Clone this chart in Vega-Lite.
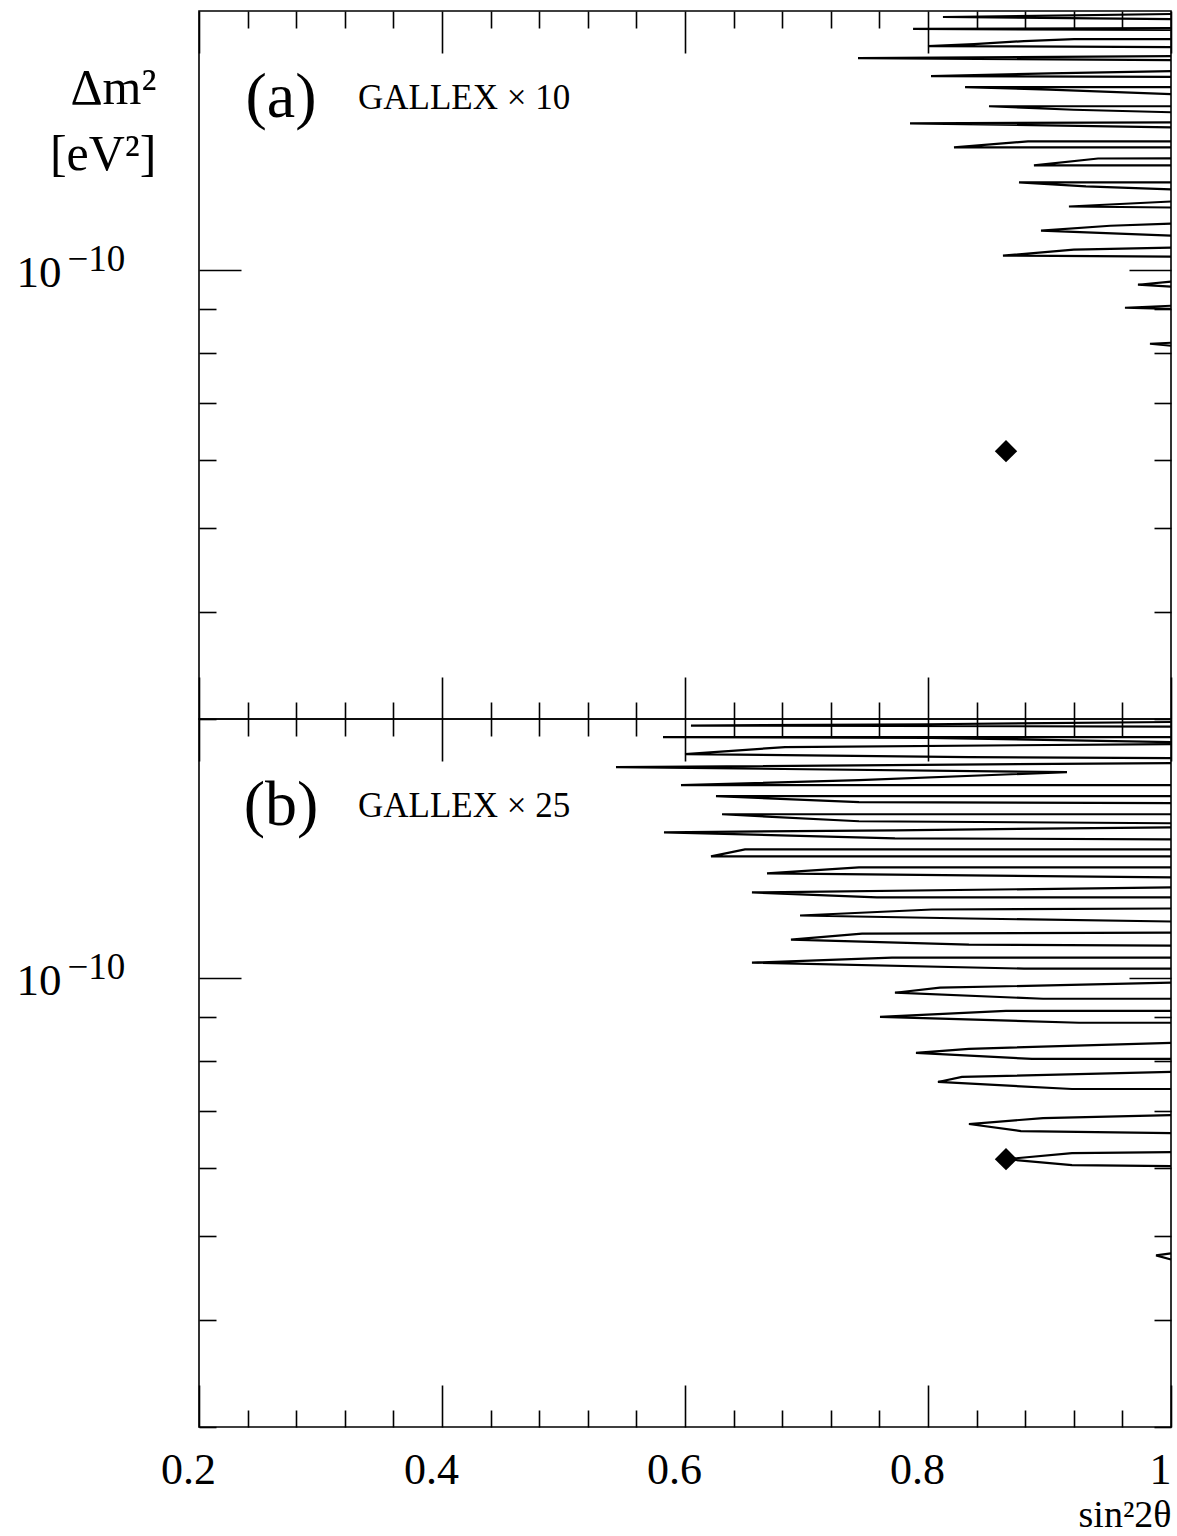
{
"$schema":"https://vega.github.io/schema/vega-lite/v6.json",
"autosize":{"type":"pad"},
"padding":{"left":15,"top":8,"right":0,"bottom":0},
"background":"white",
"spacing":0,
"bounds":"flush",
"datasets":{
"spikesA":[
{"g":"a1","s":0,"x":1,"y":1.984e-10},{"g":"a1","s":1,"x":0.8123,"y":1.968e-10},{"g":"a1","s":2,"x":1,"y":1.957e-10},
{"g":"a2","s":0,"x":1,"y":1.911e-10},{"g":"a2","s":1,"x":0.7877,"y":1.906e-10},{"g":"a2","s":2,"x":1,"y":1.901e-10},
{"g":"a3","s":0,"x":1,"y":1.855e-10},{"g":"a3","s":1,"x":0.9202,"y":1.855e-10},{"g":"a3","s":2,"x":0.879,"y":1.845e-10},{"g":"a3","s":3,"x":0.8379,"y":1.8304e-10},{"g":"a3","s":4,"x":0.8,"y":1.8206e-10},{"g":"a3","s":5,"x":1,"y":1.8157e-10},
{"g":"a4","s":0,"x":1,"y":1.7723e-10},{"g":"a4","s":1,"x":0.7424,"y":1.7628e-10},{"g":"a4","s":2,"x":1,"y":1.7534e-10},
{"g":"a5","s":0,"x":1,"y":1.7023e-10},{"g":"a5","s":1,"x":0.9,"y":1.692e-10},{"g":"a5","s":2,"x":0.8025,"y":1.6796e-10},{"g":"a5","s":3,"x":1,"y":1.676e-10},
{"g":"a6","s":0,"x":1,"y":1.6307e-10},{"g":"a6","s":1,"x":0.8305,"y":1.6307e-10},{"g":"a6","s":2,"x":0.9,"y":1.62e-10},{"g":"a6","s":3,"x":1,"y":1.6003e-10},
{"g":"a7","s":0,"x":1,"y":1.5495e-10},{"g":"a7","s":1,"x":0.8502,"y":1.5495e-10},{"g":"a7","s":2,"x":0.92,"y":1.535e-10},{"g":"a7","s":3,"x":1,"y":1.5248e-10},
{"g":"a8","s":0,"x":1,"y":1.4843e-10},{"g":"a8","s":1,"x":0.7852,"y":1.4803e-10},{"g":"a8","s":2,"x":1,"y":1.4645e-10},
{"g":"a9","s":0,"x":1,"y":1.4105e-10},{"g":"a9","s":1,"x":0.8823,"y":1.4105e-10},{"g":"a9","s":2,"x":0.8214,"y":1.3879e-10},{"g":"a9","s":3,"x":1,"y":1.3879e-10},
{"g":"a10","s":0,"x":1,"y":1.3475e-10},{"g":"a10","s":1,"x":0.94,"y":1.347e-10},{"g":"a10","s":2,"x":0.8872,"y":1.3224e-10},{"g":"a10","s":3,"x":1,"y":1.3224e-10},
{"g":"a11","s":0,"x":1,"y":1.2633e-10},{"g":"a11","s":1,"x":0.8749,"y":1.2633e-10},{"g":"a11","s":2,"x":0.93,"y":1.25e-10},{"g":"a11","s":3,"x":1,"y":1.2398e-10},
{"g":"a12","s":0,"x":1,"y":1.2005e-10},{"g":"a12","s":1,"x":0.916,"y":1.1844e-10},{"g":"a12","s":2,"x":1,"y":1.1813e-10},
{"g":"a13","s":0,"x":1,"y":1.1315e-10},{"g":"a13","s":1,"x":0.95,"y":1.125e-10},{"g":"a13","s":2,"x":0.893,"y":1.1105e-10},{"g":"a13","s":3,"x":1,"y":1.0957e-10},
{"g":"a14","s":0,"x":1,"y":1.0609e-10},{"g":"a14","s":1,"x":0.92,"y":1.055e-10},{"g":"a14","s":2,"x":0.8617,"y":1.0384e-10},{"g":"a14","s":3,"x":1,"y":1.0356e-10},
{"g":"a15","s":0,"x":1,"y":0.9683e-10},{"g":"a15","s":1,"x":0.9728,"y":0.9605e-10},{"g":"a15","s":2,"x":1,"y":0.9554e-10},
{"g":"a16","s":0,"x":1,"y":0.9079e-10},{"g":"a16","s":1,"x":0.9621,"y":0.903e-10},{"g":"a16","s":2,"x":1,"y":0.9005e-10},
{"g":"a17","s":0,"x":1,"y":0.8222e-10},{"g":"a17","s":1,"x":0.9827,"y":0.82e-10},{"g":"a17","s":2,"x":1,"y":0.8156e-10}
],
"spikesB":[
{"g":"b1","s":0,"x":1,"y":1.984e-10},{"g":"b1","s":1,"x":0.8,"y":1.972e-10},{"g":"b1","s":2,"x":0.6049,"y":1.965e-10},{"g":"b1","s":3,"x":1,"y":1.96e-10},
{"g":"b2","s":0,"x":1,"y":1.9057e-10},{"g":"b2","s":1,"x":0.5819,"y":1.9057e-10},{"g":"b2","s":2,"x":0.8008,"y":1.901e-10},{"g":"b2","s":3,"x":1,"y":1.8802e-10},
{"g":"b3","s":0,"x":1,"y":1.8702e-10},{"g":"b3","s":1,"x":0.6823,"y":1.855e-10},{"g":"b3","s":2,"x":0.6,"y":1.8206e-10},{"g":"b3","s":3,"x":0.8337,"y":1.806e-10},{"g":"b3","s":4,"x":1,"y":1.8011e-10},
{"g":"b4","s":0,"x":1,"y":1.7771e-10},{"g":"b4","s":1,"x":0.5432,"y":1.7581e-10},{"g":"b4","s":2,"x":0.9144,"y":1.7346e-10},{"g":"b4","s":3,"x":0.7432,"y":1.6977e-10},{"g":"b4","s":4,"x":0.5967,"y":1.6751e-10},{"g":"b4","s":5,"x":1,"y":1.6751e-10},
{"g":"b5","s":0,"x":1,"y":1.6263e-10},{"g":"b5","s":1,"x":0.6255,"y":1.6263e-10},{"g":"b5","s":2,"x":0.7432,"y":1.6003e-10},{"g":"b5","s":3,"x":1,"y":1.596e-10},
{"g":"b6","s":0,"x":1,"y":1.5495e-10},{"g":"b6","s":1,"x":0.6305,"y":1.5495e-10},{"g":"b6","s":2,"x":0.7432,"y":1.5207e-10},{"g":"b6","s":3,"x":1,"y":1.5126e-10},
{"g":"b7","s":0,"x":1,"y":1.4963e-10},{"g":"b7","s":1,"x":0.7728,"y":1.4843e-10},{"g":"b7","s":2,"x":0.5827,"y":1.4763e-10},{"g":"b7","s":3,"x":0.7728,"y":1.4527e-10},{"g":"b7","s":4,"x":1,"y":1.4488e-10},
{"g":"b8","s":0,"x":1,"y":1.4105e-10},{"g":"b8","s":1,"x":0.6494,"y":1.4105e-10},{"g":"b8","s":2,"x":0.6214,"y":1.3842e-10},{"g":"b8","s":3,"x":1,"y":1.3842e-10},
{"g":"b9","s":0,"x":1,"y":1.3439e-10},{"g":"b9","s":1,"x":0.7432,"y":1.3439e-10},{"g":"b9","s":2,"x":0.6675,"y":1.3224e-10},{"g":"b9","s":3,"x":0.8337,"y":1.3152e-10},{"g":"b9","s":4,"x":1,"y":1.3082e-10},
{"g":"b10","s":0,"x":1,"y":1.2735e-10},{"g":"b10","s":1,"x":0.6551,"y":1.2566e-10},{"g":"b10","s":2,"x":0.758,"y":1.2398e-10},{"g":"b10","s":3,"x":1,"y":1.2398e-10},
{"g":"b11","s":0,"x":1,"y":1.2037e-10},{"g":"b11","s":1,"x":0.8033,"y":1.2005e-10},{"g":"b11","s":2,"x":0.6947,"y":1.1813e-10},{"g":"b11","s":3,"x":0.8337,"y":1.1718e-10},{"g":"b11","s":4,"x":1,"y":1.1624e-10},
{"g":"b12","s":0,"x":1,"y":1.1285e-10},{"g":"b12","s":1,"x":0.7457,"y":1.1255e-10},{"g":"b12","s":2,"x":0.6872,"y":1.1075e-10},{"g":"b12","s":3,"x":0.8337,"y":1.0927e-10},{"g":"b12","s":4,"x":1,"y":1.0898e-10},
{"g":"b13","s":0,"x":1,"y":1.0552e-10},{"g":"b13","s":1,"x":0.7704,"y":1.0552e-10},{"g":"b13","s":2,"x":0.6551,"y":1.0411e-10},{"g":"b13","s":3,"x":0.879,"y":1.0245e-10},{"g":"b13","s":4,"x":1,"y":1.0245e-10},
{"g":"b14","s":0,"x":1,"y":0.9867e-10},{"g":"b14","s":1,"x":0.8099,"y":0.9735e-10},{"g":"b14","s":2,"x":0.7728,"y":0.9605e-10},{"g":"b14","s":3,"x":0.8947,"y":0.9451e-10},{"g":"b14","s":4,"x":1,"y":0.9451e-10},
{"g":"b15","s":0,"x":1,"y":0.9151e-10},{"g":"b15","s":1,"x":0.8642,"y":0.9151e-10},{"g":"b15","s":2,"x":0.7605,"y":0.9005e-10},{"g":"b15","s":3,"x":0.9243,"y":0.8862e-10},{"g":"b15","s":4,"x":1,"y":0.8862e-10},
{"g":"b16","s":0,"x":1,"y":0.8398e-10},{"g":"b16","s":1,"x":0.8337,"y":0.8264e-10},{"g":"b16","s":2,"x":0.7901,"y":0.8175e-10},{"g":"b16","s":3,"x":0.8856,"y":0.8045e-10},{"g":"b16","s":4,"x":1,"y":0.8045e-10},
{"g":"b17","s":0,"x":1,"y":0.7768e-10},{"g":"b17","s":1,"x":0.828,"y":0.7664e-10},{"g":"b17","s":2,"x":0.8082,"y":0.7562e-10},{"g":"b17","s":3,"x":0.9185,"y":0.7421e-10},{"g":"b17","s":4,"x":1,"y":0.7421e-10},
{"g":"b18","s":0,"x":1,"y":0.6921e-10},{"g":"b18","s":1,"x":0.8947,"y":0.6865e-10},{"g":"b18","s":2,"x":0.8337,"y":0.6756e-10},{"g":"b18","s":3,"x":0.8765,"y":0.663e-10},{"g":"b18","s":4,"x":1,"y":0.6595e-10},
{"g":"b19","s":0,"x":1,"y":0.6265e-10},{"g":"b19","s":1,"x":0.9185,"y":0.6249e-10},{"g":"b19","s":2,"x":0.8642,"y":0.6149e-10},{"g":"b19","s":3,"x":0.9185,"y":0.6051e-10},{"g":"b19","s":4,"x":1,"y":0.6034e-10},
{"g":"b20","s":0,"x":1,"y":0.4777e-10},{"g":"b20","s":1,"x":0.9877,"y":0.4751e-10},{"g":"b20","s":2,"x":1,"y":0.47e-10}
],
"best":[{"x":0.8642,"y":0.6149e-10}]
},
"vconcat":[
{
"width":972,"height":708,
"resolve":{"axis":{"x":"independent","y":"independent"}},
"layer":[
{"data":{"name":"spikesA"},"mark":{"type":"line","color":"black","strokeWidth":2.2},
"encoding":{
"x":{"field":"x","type":"quantitative","scale":{"domain":[0.2,1],"nice":false,"zero":false},"axis":{"orient":"bottom","values":[0.2,0.4,0.6,0.8,1],"tickSize":-42,"labels":false,"title":null}},
"y":{"field":"y","type":"quantitative","scale":{"type":"log","domain":[3e-11,2e-10],"nice":false},"axis":{"orient":"left","values":[1e-10],"tickSize":-42,"labels":false,"title":null}},
"detail":{"field":"g","type":"nominal"},
"order":{"field":"s","type":"quantitative"}}},
{"data":{"name":"best"},"mark":{"type":"point","shape":"diamond","filled":true,"color":"black","size":500,"opacity":1},
"encoding":{
"x":{"field":"x","type":"quantitative","scale":{"domain":[0.2,1],"nice":false,"zero":false},"axis":{"orient":"bottom","values":[0.24,0.28,0.32,0.36,0.44,0.48,0.52,0.56,0.64,0.68,0.72,0.76,0.84,0.88,0.92,0.96],"tickSize":-17,"labels":false,"title":null}},
"y":{"field":"y","type":"quantitative","scale":{"type":"log","domain":[3e-11,2e-10],"nice":false},"axis":{"orient":"left","values":[3e-11,4e-11,5e-11,6e-11,7e-11,8e-11,9e-11],"tickSize":-17,"labels":false,"title":null}}}},
{"data":{"values":[{}]},"mark":{"type":"text","text":"(a)","font":"Liberation Serif","fontSize":64,"align":"center","baseline":"alphabetic","color":"black"},
"encoding":{
"x":{"datum":0.2675,"type":"quantitative","scale":{"domain":[0.2,1],"nice":false,"zero":false},"axis":{"orient":"top","values":[0.2,0.4,0.6,0.8,1],"tickSize":-42,"labels":false,"title":null}},
"y":{"datum":1.5045e-10,"type":"quantitative","scale":{"type":"log","domain":[3e-11,2e-10],"nice":false},"axis":{"orient":"right","values":[1e-10],"tickSize":-42,"labels":false,"title":null}}}},
{"data":{"values":[{}]},"mark":{"type":"text","text":"GALLEX × 10","font":"Liberation Serif","fontSize":35,"align":"left","baseline":"alphabetic","color":"black"},
"encoding":{
"x":{"datum":0.3309,"type":"quantitative","scale":{"domain":[0.2,1],"nice":false,"zero":false},"axis":{"orient":"top","values":[0.24,0.28,0.32,0.36,0.44,0.48,0.52,0.56,0.64,0.68,0.72,0.76,0.84,0.88,0.92,0.96],"tickSize":-17,"labels":false,"title":null}},
"y":{"datum":1.5371e-10,"type":"quantitative","scale":{"type":"log","domain":[3e-11,2e-10],"nice":false},"axis":{"orient":"right","values":[3e-11,4e-11,5e-11,6e-11,7e-11,8e-11,9e-11],"tickSize":-17,"labels":false,"title":null}}}},
{"data":{"values":[{}]},"mark":{"type":"text","text":""},
"encoding":{
"x":{"datum":0.5,"type":"quantitative","scale":{"domain":[0.2,1],"nice":false,"zero":false},"axis":null},
"y":{"datum":1e-10,"type":"quantitative","scale":{"type":"log","domain":[3e-11,2e-10],"nice":false},"axis":{"orient":"left","values":[1e-10],"ticks":false,"tickSize":0,"labelExpr":"'10'","labelAlign":"left","labelBaseline":"alphabetic","labelPadding":183,"labelOffset":17,"labelFontSize":45,"title":["Δm²","[eV²]"],"titleAngle":0,"titleAlign":"right","titleBaseline":"alphabetic","titleX":-43,"titleY":92,"titleFontSize":50,"titleLineHeight":66}}}},
{"data":{"values":[{}]},"mark":{"type":"text","text":""},
"encoding":{
"x":{"datum":0.5,"type":"quantitative","scale":{"domain":[0.2,1],"nice":false,"zero":false},"axis":null},
"y":{"datum":1e-10,"type":"quantitative","scale":{"type":"log","domain":[3e-11,2e-10],"nice":false},"axis":{"orient":"left","values":[1e-10],"ticks":false,"tickSize":0,"labelExpr":"'−10'","labelAlign":"left","labelBaseline":"alphabetic","labelPadding":132,"labelOffset":1,"labelFontSize":37,"title":null}}}}
]
},
{
"width":972,"height":708,
"resolve":{"axis":{"x":"independent","y":"independent"}},
"layer":[
{"data":{"name":"spikesB"},"mark":{"type":"line","color":"black","strokeWidth":2.2},
"encoding":{
"x":{"field":"x","type":"quantitative","scale":{"domain":[0.2,1],"nice":false,"zero":false},"axis":{"orient":"bottom","values":[0.2,0.4,0.6,0.8,1],"tickSize":-42,"labels":false,"title":null}},
"y":{"field":"y","type":"quantitative","scale":{"type":"log","domain":[3e-11,2e-10],"nice":false},"axis":{"orient":"left","values":[1e-10],"tickSize":-42,"labels":false,"title":null}},
"detail":{"field":"g","type":"nominal"},
"order":{"field":"s","type":"quantitative"}}},
{"data":{"name":"best"},"mark":{"type":"point","shape":"diamond","filled":true,"color":"black","size":500,"opacity":1},
"encoding":{
"x":{"field":"x","type":"quantitative","scale":{"domain":[0.2,1],"nice":false,"zero":false},"axis":{"orient":"bottom","values":[0.24,0.28,0.32,0.36,0.44,0.48,0.52,0.56,0.64,0.68,0.72,0.76,0.84,0.88,0.92,0.96],"tickSize":-17,"labels":false,"title":null}},
"y":{"field":"y","type":"quantitative","scale":{"type":"log","domain":[3e-11,2e-10],"nice":false},"axis":{"orient":"left","values":[3e-11,4e-11,5e-11,6e-11,7e-11,8e-11,9e-11],"tickSize":-17,"labels":false,"title":null}}}},
{"data":{"values":[{}]},"mark":{"type":"text","text":"(b)","font":"Liberation Serif","fontSize":64,"align":"center","baseline":"alphabetic","color":"black"},
"encoding":{
"x":{"datum":0.2675,"type":"quantitative","scale":{"domain":[0.2,1],"nice":false,"zero":false},"axis":{"orient":"top","values":[0.2,0.4,0.6,0.8,1],"tickSize":-42,"labels":false,"title":null}},
"y":{"datum":1.5045e-10,"type":"quantitative","scale":{"type":"log","domain":[3e-11,2e-10],"nice":false},"axis":{"orient":"right","values":[1e-10],"tickSize":-42,"labels":false,"title":null}}}},
{"data":{"values":[{}]},"mark":{"type":"text","text":"GALLEX × 25","font":"Liberation Serif","fontSize":35,"align":"left","baseline":"alphabetic","color":"black"},
"encoding":{
"x":{"datum":0.3309,"type":"quantitative","scale":{"domain":[0.2,1],"nice":false,"zero":false},"axis":{"orient":"top","values":[0.24,0.28,0.32,0.36,0.44,0.48,0.52,0.56,0.64,0.68,0.72,0.76,0.84,0.88,0.92,0.96],"tickSize":-17,"labels":false,"title":null}},
"y":{"datum":1.5371e-10,"type":"quantitative","scale":{"type":"log","domain":[3e-11,2e-10],"nice":false},"axis":{"orient":"right","values":[3e-11,4e-11,5e-11,6e-11,7e-11,8e-11,9e-11],"tickSize":-17,"labels":false,"title":null}}}},
{"data":{"values":[{}]},"mark":{"type":"text","text":""},
"encoding":{
"x":{"datum":0.5,"type":"quantitative","scale":{"domain":[0.2,1],"nice":false,"zero":false},"axis":{"orient":"bottom","values":[0.2,0.4,0.6,0.8,1],"ticks":false,"tickSize":0,"labelExpr":"datum.value == 1 ? '1' : format(datum.value, '.1f')","labelBaseline":"alphabetic","labelPadding":56,"labelOffset":-11,"labelFontSize":44,"title":"sin²2θ","titleAlign":"right","titleAnchor":"end","titleBaseline":"alphabetic","titleX":972,"titleY":99,"titleFontSize":38}},
"y":{"datum":1e-10,"type":"quantitative","scale":{"type":"log","domain":[3e-11,2e-10],"nice":false},"axis":{"orient":"left","values":[1e-10],"ticks":false,"tickSize":0,"labelExpr":"'10'","labelAlign":"left","labelBaseline":"alphabetic","labelPadding":183,"labelOffset":17,"labelFontSize":45,"title":null}}}},
{"data":{"values":[{}]},"mark":{"type":"text","text":""},
"encoding":{
"x":{"datum":0.5,"type":"quantitative","scale":{"domain":[0.2,1],"nice":false,"zero":false},"axis":null},
"y":{"datum":1e-10,"type":"quantitative","scale":{"type":"log","domain":[3e-11,2e-10],"nice":false},"axis":{"orient":"left","values":[1e-10],"ticks":false,"tickSize":0,"labelExpr":"'−10'","labelAlign":"left","labelBaseline":"alphabetic","labelPadding":132,"labelOffset":1,"labelFontSize":37,"title":null}}}}
]
}
],
"config":{
"view":{"stroke":"black","strokeWidth":1.6},
"axis":{"domain":false,"grid":false,"tickColor":"black","tickWidth":1.6,"labelColor":"black","labelFont":"Liberation Serif","titleFont":"Liberation Serif","titleColor":"black","titleFontWeight":"normal","labelFlush":false,"labelOverlap":false,"labelBound":false},
"text":{"font":"Liberation Serif","color":"black"}
}
}
